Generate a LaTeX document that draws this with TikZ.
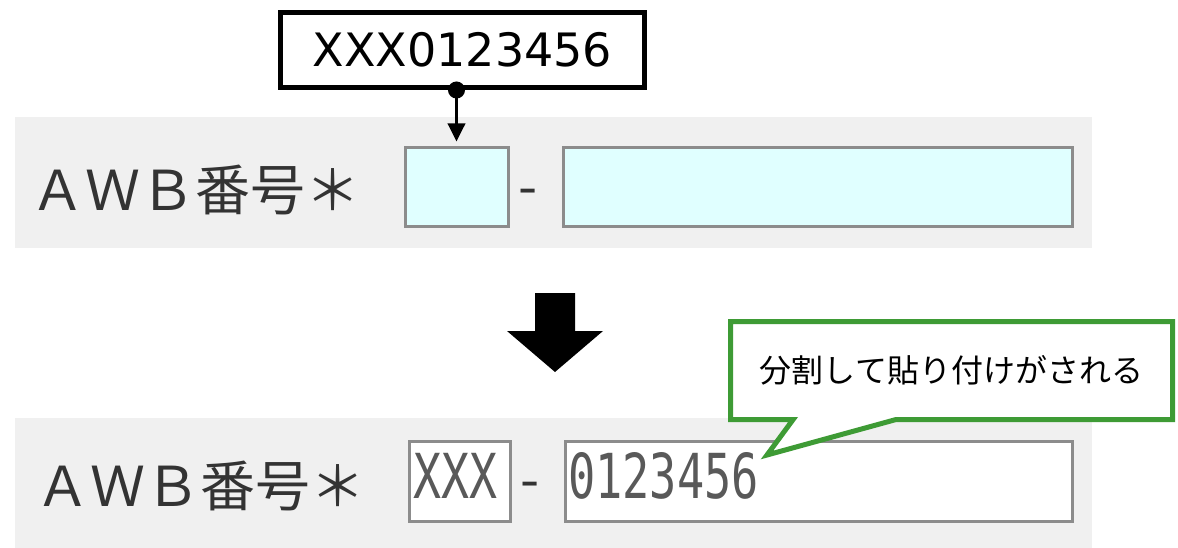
\documentclass[tikz,border=0pt]{standalone}
\usepackage{fontspec}
\setmainfont{Noto Sans CJK JP}
\newfontfamily\champfont{DejaVu Sans Mono}
\newfontfamily\numfont{DejaVu Sans}
\usetikzlibrary{shapes.callouts, arrows.meta}
\definecolor{fond}{RGB}{240,240,240}
\definecolor{cyanclair}{RGB}{224,255,255}
\definecolor{vert}{RGB}{62,155,53}

\begin{document}
\begin{tikzpicture}[x=1pt, y=-1pt]

	\tikzstyle{panneau}=[fill=fond]
	\tikzstyle{champ}=[rectangle, draw=black!45, line width=3pt, inner sep=0pt,
		append after command={[draw=black!18, line width=2pt]
		([shift={(2.5pt,2.5pt)}]\tikzlastnode.south west) rectangle ([shift={(-2.5pt,-2.5pt)}]\tikzlastnode.north east)}]
	\tikzstyle{etiquette}=[font=\fontsize{55}{55}\selectfont, text=black!80, anchor=west, inner sep=0pt]
	\tikzstyle{saisie}=[font=\champfont\fontsize{62}{62}\selectfont, text=black!65, anchor=west, inner sep=0pt]
	\tikzstyle{bulle}=[rectangle, draw, line width=5pt, fill=white, minimum width=364pt, minimum height=75pt, font=\numfont\fontsize{46}{46}\selectfont]
	\tikzstyle{bulle2}=[rectangle callout, draw=vert, line width=5pt, fill=white, minimum width=442pt, minimum height=98pt, callout pointer width=103pt, font=\fontsize{32}{32}\selectfont]
	\tikzstyle{arc}=[{Circle[length=17pt]}-{Stealth[length=18pt,width=17pt,inset=0pt]}, line width=3.5pt, black]

	\useasboundingbox (0,0) rectangle (1178,548);

	% avant
	\fill[panneau] (15,117) rectangle (1092,248);
	\node[etiquette] (lbl1) at (30,190) {ＡＷＢ番号＊};
	\node[champ, fill=cyanclair, minimum width=103pt, minimum height=79pt] (in1a) at (456.5,187.5) {};
	\node[etiquette] (tiret1) at (518,198) {-};
	\node[champ, fill=cyanclair, minimum width=509pt, minimum height=79pt] (in1b) at (817.5,187.5) {};

	\node[bulle] (src) at (462.5,50) {XXX0123456};
	\draw[arc, shorten <=-8.5pt] (src.south -| in1a.north) -- ([yshift=5pt]in1a.north);

	% fleche
	\fill (535,293) -- (575,293) -- (575,331) -- (603,331) -- (555,372) -- (507,331) -- (535,331) -- cycle;

	% apres
	\fill[panneau] (15,418) rectangle (1092,548);
	\node[etiquette] (lbl2) at (35,486) {ＡＷＢ番号＊};
	\node[champ, fill=white, minimum width=101pt, minimum height=80pt] (in2a) at (460,481) {};
	\node[saisie] (val2a) at (413,476) {\scalebox{0.75}[1]{XXX}};
	\node[etiquette] (tiret2) at (520,491) {-};
	\node[champ, fill=white, minimum width=507pt, minimum height=80pt] (in2b) at (819,481) {};
	\node[saisie] (val2b) at (568,476) {\scalebox{0.73}[1]{0123456}};

	\coordinate (pointe) at (767,455);
	\node[bulle2, callout absolute pointer={(pointe)}] (note) at (951.5,370.5) {分割して貼り付けがされる};

\end{tikzpicture}
\end{document}
